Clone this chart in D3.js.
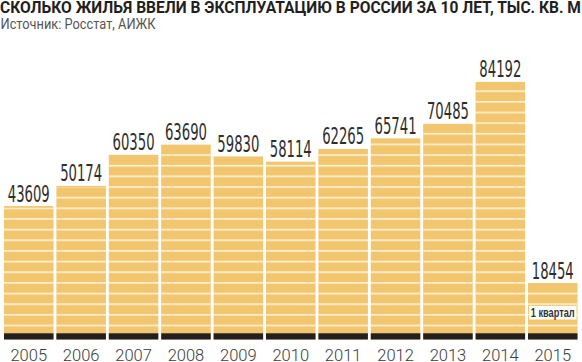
<!DOCTYPE html>
<html>
<head>
<meta charset="utf-8">
<script src="https://cdn.jsdelivr.net/npm/d3@7"></script>
<style>
  body { margin: 0; background: #fff; }
  svg { display: block; }
</style>
</head>
<body>
<svg id="svg"></svg>
<script>
// данные
var years = ['2005', '2006', '2007', '2008', '2009', '2010', '2011', '2012', '2013', '2014', '2015'];
var values = [43609, 50174, 60350, 63690, 59830, 58114, 62265, 65741, 70485, 84192, 18454];
var notes = ['', '', '', '', '', '', '', '', '', '', '1 квартал'];

var title = 'СКОЛЬКО ЖИЛЬЯ ВВЕЛИ В ЭКСПЛУАТАЦИЮ В РОССИИ ЗА 10 ЛЕТ, ТЫС. КВ. М';
var source = 'Источник: Росстат, АИЖК';

var width = 582,
  height = 362;

var baseY = 339.5,
  blackH = 6.2;

var data = years.map(function (y, i) {
  return { year: y, count: values[i], note: notes[i] };
});

var scaleX = d3.scaleBand()
  .domain(years)
  .range([4, 577.5])
  .paddingInner(0.055)
  .paddingOuter(0);

var scaleY = d3.scaleLinear()
  .domain([0, 90000])
  .range([baseY, baseY - 0.00306 * 90000]);

var s = d3.select('#svg')
  .attr('width', width)
  .attr('height', height);

// полоски
var defs = s.append('defs');
var pat = defs.append('pattern')
  .attr('id', 'stripes')
  .attr('patternUnits', 'userSpaceOnUse')
  .attr('x', 0)
  .attr('y', 324.6)
  .attr('width', 20)
  .attr('height', 10.65);
pat.append('rect')
  .attr('x', 0).attr('y', 0)
  .attr('width', 20).attr('height', 1.7)
  .attr('fill', '#fcefd3');

// заголовок
s.append('text')
  .attr('x', 0)
  .attr('y', 12.8)
  .attr('textLength', 581)
  .attr('lengthAdjust', 'spacingAndGlyphs')
  .style('font-family', '"Liberation Sans Narrow", "Roboto", sans-serif')
  .style('font-weight', 'bold')
  .style('font-size', '16.5px')
  .style('fill', '#231f20')
  .text(title);

s.append('text')
  .attr('x', 0.5)
  .attr('y', 28.5)
  .attr('textLength', 155)
  .attr('lengthAdjust', 'spacingAndGlyphs')
  .style('font-family', 'Roboto, sans-serif')
  .style('font-size', '14px')
  .style('fill', '#555')
  .text(source);

var g = s.append('g');

var bars = g.selectAll('g.bar')
  .data(data)
  .enter()
  .append('g')
  .attr('class', 'bar');

bars.append('rect')
  .attr('x', function (d) { return scaleX(d.year); })
  .attr('y', function (d) { return scaleY(d.count); })
  .attr('width', scaleX.bandwidth())
  .attr('height', function (d) { return baseY - scaleY(d.count); })
  .attr('fill', '#f2c66e');

bars.append('rect')
  .attr('x', function (d) { return scaleX(d.year); })
  .attr('y', function (d) { return scaleY(d.count) + 1.5; })
  .attr('width', scaleX.bandwidth())
  .attr('height', function (d) { return baseY - blackH - scaleY(d.count) - 1.5; })
  .attr('fill', 'url(#stripes)');

bars.append('rect')
  .attr('x', function (d) { return scaleX(d.year); })
  .attr('y', baseY - blackH)
  .attr('width', scaleX.bandwidth())
  .attr('height', blackH)
  .attr('fill', '#231f20');

// подписи значений
bars.append('text')
  .attr('x', function (d) { return scaleX(d.year) + scaleX.bandwidth() / 2; })
  .attr('y', function (d) { return scaleY(d.count) - 4.5; })
  .attr('text-anchor', 'middle')
  .attr('textLength', 42)
  .attr('lengthAdjust', 'spacingAndGlyphs')
  .style('font-family', '"Liberation Sans Narrow", "DejaVu Sans Condensed", sans-serif')
  .style('font-size', '23.5px')
  .style('fill', '#2e2e2e')
  .text(function (d) { return d.count; });

// примечание
var noted = bars.filter(function (d) { return d.note; });
noted.append('rect')
  .attr('x', function (d) { return scaleX(d.year) + 1; })
  .attr('y', 306)
  .attr('width', scaleX.bandwidth() - 2)
  .attr('height', 13.5)
  .attr('fill', '#fff');
noted.append('text')
  .attr('x', function (d) { return scaleX(d.year) + scaleX.bandwidth() / 2; })
  .attr('y', 317.2)
  .attr('text-anchor', 'middle')
  .attr('textLength', 44)
  .attr('lengthAdjust', 'spacingAndGlyphs')
  .style('font-family', '"Liberation Sans Narrow", sans-serif')
  .style('font-weight', 'bold')
  .style('font-size', '13px')
  .style('fill', '#333')
  .text(function (d) { return d.note; });

// ось X
var axisX = d3.axisBottom(scaleX).tickSize(0).tickPadding(0);
var ax = g.append('g')
  .attr('transform', 'translate(0,' + baseY + ')')
  .call(axisX);
ax.select('.domain').remove();
ax.selectAll('text')
  .attr('dy', null)
  .attr('y', 21.5)
  .style('font-family', 'Roboto, sans-serif')
  .style('font-weight', 300)
  .style('font-size', '16.5px')
  .style('fill', '#3a3a3a');
</script>
</body>
</html>
